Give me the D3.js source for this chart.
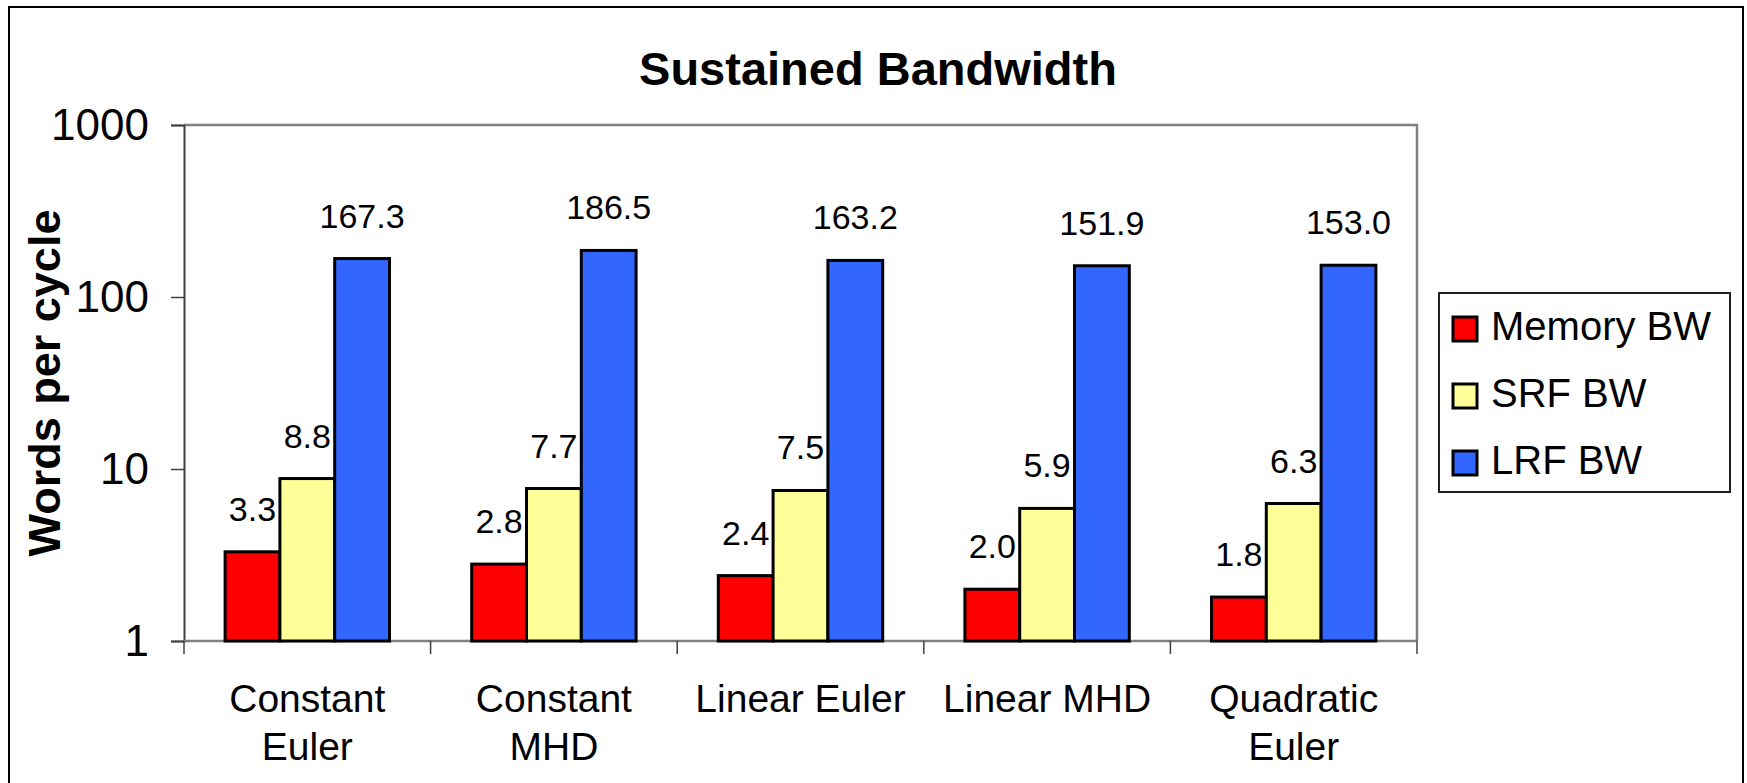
<!DOCTYPE html>
<html lang="en">
    <head>
        <meta charset="utf-8">
        <title>Sustained Bandwidth</title>
        <style type="text/css">
            body { margin: 0; background: white; }
            text { font-family: "Liberation Sans", Arial, Helvetica, sans-serif; fill: black; }
        </style>
        <script type="text/javascript" src="https://cdn.jsdelivr.net/npm/d3@7"></script>
    </head>
    <body>
        <script type="text/javascript">

var w = 1747;
var h = 783;

// data
var categories = ['Constant Euler', 'Constant MHD', 'Linear Euler', 'Linear MHD', 'Quadratic Euler'];
var catLines = [['Constant', 'Euler'], ['Constant', 'MHD'], ['Linear Euler'], ['Linear MHD'], ['Quadratic', 'Euler']];
var series = ['Memory BW', 'SRF BW', 'LRF BW'];
var memoryBW = [3.3, 2.8, 2.4, 2.0, 1.8];
var srfBW = [8.8, 7.7, 7.5, 5.9, 6.3];
var lrfBW = [167.3, 186.5, 163.2, 151.9, 153.0];
var yTicks = [1, 10, 100, 1000];
var colors = ['#ff0000', '#ffff99', '#3366ff'];

var values = [memoryBW, srfBW, lrfBW];

var svg = d3.select('body')
    .append('svg')
    .attr('width', w)
    .attr('height', h);

// outer chart frame
svg.append('rect')
    .attr('x', 9).attr('y', 7)
    .attr('width', 1734).attr('height', 800)
    .attr('fill', 'white')
    .attr('stroke', 'black')
    .attr('stroke-width', 2);

var plot = {left: 184, top: 125, right: 1417, bottom: 641};

var x0 = d3.scaleBand()
    .domain(categories)
    .range([plot.left, plot.right])
    .padding(0);

var x1 = d3.scaleBand()
    .domain(series)
    .range([0, x0.bandwidth()])
    .paddingInner(0)
    .paddingOuter(0.75);

var y = d3.scaleLog()
    .domain([1, 1000])
    .range([plot.bottom, plot.top]);

// plot area border (top and right in grey)
svg.append('path')
    .attr('d', 'M' + plot.left + ',' + plot.top + 'H' + plot.right + 'V' + plot.bottom)
    .attr('fill', 'none')
    .attr('stroke', '#808080')
    .attr('stroke-width', 2.5);

// y axis
var yAxis = d3.axisLeft(y)
    .tickValues(yTicks)
    .tickFormat(d3.format('d'))
    .tickSize(13)
    .tickPadding(22);

var gy = svg.append('g')
    .attr('transform', 'translate(' + plot.left + ',0)')
    .call(yAxis);
gy.select('.domain').attr('stroke', '#404040').attr('stroke-width', 2);
gy.selectAll('.tick line').attr('stroke', '#404040').attr('stroke-width', 1.5);
gy.selectAll('.tick text')
    .style('font-size', '44px')
    .style('font-family', '"Liberation Sans", Arial, sans-serif')
    .attr('fill', 'black');

// x axis: ticks on band boundaries, labels drawn separately
var gx = svg.append('g')
    .attr('transform', 'translate(0,' + plot.bottom + ')');
gx.append('line')
    .attr('x1', plot.left).attr('x2', plot.right)
    .attr('stroke', '#808080').attr('stroke-width', 2.5);
gx.selectAll('line.tk')
    .data(categories.concat(['end']))
    .enter()
    .append('line')
    .attr('class', 'tk')
    .attr('x1', function(d, i) { return i < categories.length ? x0(d) : plot.right; })
    .attr('x2', function(d, i) { return i < categories.length ? x0(d) : plot.right; })
    .attr('y1', 0).attr('y2', 13)
    .attr('stroke', '#404040').attr('stroke-width', 1.5);

gx.selectAll('text.cat')
    .data(categories)
    .enter()
    .append('text')
    .attr('class', 'cat')
    .attr('text-anchor', 'middle')
    .style('font-size', '39px')
    .each(function(d, i) {
        var t = d3.select(this);
        catLines[i].forEach(function(line, j) {
            t.append('tspan')
                .attr('x', x0(d) + x0.bandwidth() / 2)
                .attr('y', 71 + j * 48)
                .text(line);
        });
    });

// bars
var groups = svg.selectAll('g.grp')
    .data(categories)
    .enter()
    .append('g')
    .attr('class', 'grp')
    .attr('transform', function(d) { return 'translate(' + x0(d) + ',0)'; });

groups.selectAll('rect')
    .data(function(d, i) {
        return series.map(function(s, k) { return {s: s, k: k, v: values[k][i]}; });
    })
    .enter()
    .append('rect')
    .attr('x', function(d) { return x1(d.s); })
    .attr('y', function(d) { return y(d.v); })
    .attr('width', x1.bandwidth())
    .attr('height', function(d) { return plot.bottom - y(d.v); })
    .attr('fill', function(d) { return colors[d.k]; })
    .attr('stroke', 'black')
    .attr('stroke-width', 3);

groups.selectAll('text.val')
    .data(function(d, i) {
        return series.map(function(s, k) { return {s: s, k: k, v: values[k][i]}; });
    })
    .enter()
    .append('text')
    .attr('class', 'val')
    .attr('x', function(d) { return x1(d.s) + x1.bandwidth() / 2; })
    .attr('y', function(d) { return y(d.v) - 31; })
    .attr('text-anchor', 'middle')
    .style('font-size', '34px')
    .text(function(d) { return d3.format('.1f')(d.v); });

// title
svg.append('text')
    .attr('x', 878)
    .attr('y', 85)
    .attr('text-anchor', 'middle')
    .style('font-size', '47px')
    .style('font-weight', 'bold')
    .text('Sustained Bandwidth');

// y axis title
svg.append('text')
    .attr('transform', 'translate(60,' + ((plot.top + plot.bottom) / 2) + ') rotate(-90)')
    .attr('text-anchor', 'middle')
    .style('font-size', '45px')
    .style('font-weight', 'bold')
    .text('Words per cycle');

// legend
var legend = svg.append('g');
legend.append('rect')
    .attr('x', 1439).attr('y', 293)
    .attr('width', 291).attr('height', 199)
    .attr('fill', 'white')
    .attr('stroke', '#202020')
    .attr('stroke-width', 2);

var li = legend.selectAll('g.li')
    .data(series)
    .enter()
    .append('g')
    .attr('class', 'li')
    .attr('transform', function(d, i) { return 'translate(1453,' + (317 + i * 67) + ')'; });

li.append('rect')
    .attr('width', 24).attr('height', 24)
    .attr('fill', function(d, i) { return colors[i]; })
    .attr('stroke', 'black')
    .attr('stroke-width', 3);

li.append('text')
    .attr('x', 38)
    .attr('y', 23)
    .style('font-size', '40px')
    .text(function(d) { return d; });

        </script>
    </body>
</html>
